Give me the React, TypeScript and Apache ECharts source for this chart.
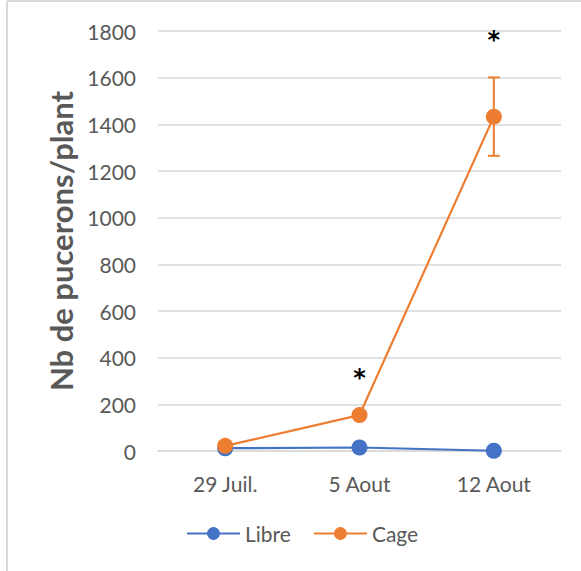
import React, { useEffect, useRef } from "react";
import * as echarts from "echarts";

// Aphid counts per plant on three sampling dates
const categories = ["29 Juil.", "5 Aout", "12 Aout"];
const libre = [12, 15, 1];
const cage = [22, 154, 1433];
const cageError = [0, 0, 168];
const significance = ["", "*", "*"];
const yMin = 0;
const yMax = 1800;
const yInterval = 200;

const FONT = "Lato, 'Noto Sans', sans-serif";
const GREY = "#595959";
const BLUE = "#4472C4";
const ORANGE = "#ED7D31";

export default function App() {
  const ref = useRef<HTMLDivElement>(null);

  useEffect(() => {
    if (!ref.current) return;
    const chart = echarts.init(ref.current, undefined, { renderer: "svg" });

    const errorData = categories.map((_, i) => [
      i,
      cage[i] - cageError[i],
      cage[i] + cageError[i],
      significance[i] ? 1 : 0,
    ]);

    chart.setOption({
      animation: false,
      backgroundColor: "#ffffff",
      textStyle: { fontFamily: FONT },
      grid: { left: 158, right: 20, top: 31, bottom: 120, containLabel: false },
      graphic: [
        {
          type: "line",
          shape: { x1: 7, y1: 1, x2: 7, y2: 571 },
          style: { stroke: "#d9d9d9", lineWidth: 2 },
        },
        {
          type: "line",
          shape: { x1: 7, y1: 1, x2: 581, y2: 1 },
          style: { stroke: "#d9d9d9", lineWidth: 2 },
        },
      ],
      legend: {
        data: ["Libre", "Cage"],
        bottom: 22,
        left: 181,
        itemWidth: 53,
        itemHeight: 16,
        itemGap: 22,
        textStyle: { color: GREY, fontSize: 21, fontFamily: FONT },
      },
      xAxis: {
        type: "category",
        data: categories,
        boundaryGap: true,
        axisLine: { lineStyle: { color: "#d9d9d9", width: 1.5 } },
        axisTick: { show: false },
        axisLabel: { color: GREY, fontSize: 21, margin: 22, fontFamily: FONT },
      },
      yAxis: {
        type: "value",
        min: yMin,
        max: yMax,
        interval: yInterval,
        name: "Nb de pucerons/plant",
        nameLocation: "middle",
        nameGap: 78,
        nameTextStyle: { color: GREY, fontSize: 31, fontWeight: "bold", fontFamily: FONT },
        axisLine: { show: false },
        axisTick: { show: false },
        axisLabel: {
          color: GREY,
          fontSize: 21,
          margin: 22,
          fontFamily: FONT,
          formatter: (v: number) => String(v),
        },
        splitLine: { lineStyle: { color: "#d9d9d9", width: 1.5 } },
      },
      series: [
        {
          name: "Libre",
          type: "line",
          data: libre,
          symbol: "circle",
          symbolSize: 16,
          itemStyle: { color: BLUE },
          lineStyle: { color: BLUE, width: 2.2 },
          z: 3,
        },
        {
          name: "Cage",
          type: "line",
          data: cage,
          symbol: "circle",
          symbolSize: 16,
          itemStyle: { color: ORANGE },
          lineStyle: { color: ORANGE, width: 2.2 },
          z: 5,
        },
        {
          name: "Cage erreur",
          type: "custom",
          data: errorData,
          z: 4,
          silent: true,
          renderItem: (params: any, api: any) => {
            const x = api.value(0);
            const lo = api.coord([x, api.value(1)]);
            const hi = api.coord([x, api.value(2)]);
            const cap = 6;
            const children: any[] = [];
            if (Math.abs(hi[1] - lo[1]) > 1) {
              const st = { stroke: ORANGE, lineWidth: 2 };
              children.push(
                { type: "line", shape: { x1: lo[0], y1: lo[1], x2: hi[0], y2: hi[1] }, style: st },
                { type: "line", shape: { x1: hi[0] - cap, y1: hi[1], x2: hi[0] + cap, y2: hi[1] }, style: st },
                { type: "line", shape: { x1: lo[0] - cap, y1: lo[1], x2: lo[0] + cap, y2: lo[1] }, style: st }
              );
            }
            if (api.value(3)) {
              children.push({
                type: "text",
                x: hi[0],
                y: hi[1] - 37,
                style: {
                  text: "*",
                  fill: "#000000",
                  font: `bold 24px 'DejaVu Sans', sans-serif`,
                  textAlign: "center",
                  textVerticalAlign: "middle",
                },
              });
            }
            return { type: "group", children };
          },
        },
      ],
    });

    return () => chart.dispose();
  }, []);

  return <div ref={ref} style={{ width: 581, height: 571, position: "absolute", left: 0, top: 0 }} />;
}
